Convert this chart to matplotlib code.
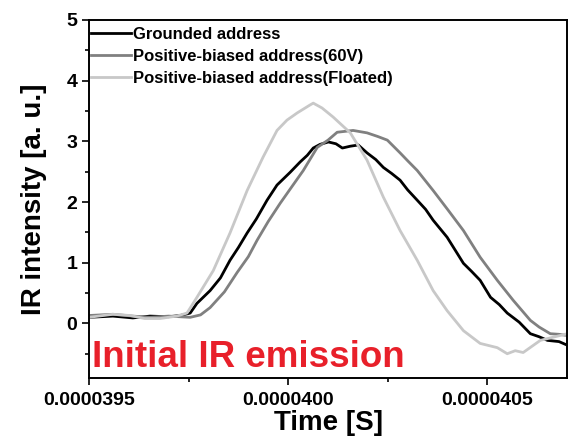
import matplotlib
matplotlib.use("Agg")
import matplotlib.pyplot as plt
from matplotlib.ticker import MultipleLocator, FuncFormatter

plt.rcParams['font.family'] = ['Liberation Sans', 'DejaVu Sans']
plt.rcParams['font.weight'] = 'bold'

# tiempos en microsegundos (se pasan a segundos al graficar)
t_grounded = [39.500, 39.560, 39.610, 39.653, 39.700, 39.729, 39.754, 39.771, 39.804, 39.830,
              39.854, 39.875, 39.897, 39.920, 39.947, 39.972, 40.005, 40.030, 40.048, 40.063,
              40.080, 40.101, 40.120, 40.136, 40.156, 40.176, 40.198, 40.220, 40.239, 40.260,
              40.281, 40.300, 40.324, 40.345, 40.364, 40.399, 40.420, 40.440, 40.460, 40.482,
              40.508, 40.530, 40.550, 40.580, 40.608, 40.630, 40.651, 40.680, 40.701]
v_grounded = [0.10, 0.12, 0.09, 0.12, 0.11, 0.13, 0.17, 0.33, 0.54, 0.75,
              1.04, 1.25, 1.49, 1.72, 2.03, 2.28, 2.49, 2.66, 2.77, 2.89,
              2.95, 2.99, 2.96, 2.89, 2.92, 2.94, 2.81, 2.70, 2.57, 2.47,
              2.36, 2.20, 2.03, 1.88, 1.70, 1.42, 1.20, 0.99, 0.86, 0.71,
              0.43, 0.31, 0.17, 0.02, -0.17, -0.22, -0.28, -0.30, -0.36]

t_60v = [39.500, 39.560, 39.610, 39.653, 39.700, 39.754, 39.780, 39.804, 39.840, 39.872,
         39.900, 39.922, 39.950, 39.980, 40.010, 40.038, 40.073, 40.100, 40.123, 40.163,
         40.198, 40.225, 40.249, 40.281, 40.300, 40.324, 40.364, 40.400, 40.440, 40.482,
         40.525, 40.565, 40.608, 40.630, 40.658, 40.680, 40.701]
v_60v = [0.13, 0.15, 0.12, 0.10, 0.12, 0.10, 0.14, 0.26, 0.52, 0.84,
         1.10, 1.37, 1.68, 1.98, 2.26, 2.52, 2.90, 3.02, 3.15, 3.18,
         3.14, 3.08, 3.02, 2.81, 2.68, 2.52, 2.19, 1.88, 1.53, 1.09,
         0.71, 0.38, 0.05, -0.06, -0.17, -0.18, -0.20]

t_floated = [39.500, 39.560, 39.603, 39.640, 39.678, 39.720, 39.746, 39.771, 39.812, 39.854,
             39.897, 39.937, 39.972, 39.997, 40.023, 40.055, 40.063, 40.085, 40.113, 40.156,
             40.198, 40.239, 40.281, 40.324, 40.364, 40.399, 40.440, 40.482, 40.525, 40.550,
             40.570, 40.590, 40.633, 40.670, 40.701]
v_floated = [0.10, 0.15, 0.13, 0.08, 0.08, 0.12, 0.17, 0.43, 0.87, 1.49,
             2.19, 2.74, 3.18, 3.35, 3.47, 3.60, 3.63, 3.55, 3.40, 3.14,
             2.69, 2.08, 1.53, 1.04, 0.54, 0.21, -0.12, -0.33, -0.40, -0.50,
             -0.45, -0.48, -0.28, -0.22, -0.17]

etiquetas = ['Grounded address', 'Positive-biased address(60V)', 'Positive-biased address(Floated)']
colores = ['black', '#808080', '#c8c8c8']

fig = plt.figure(figsize=(5.68, 4.41), dpi=100)
ax = fig.add_axes([89/568, 1-378/441, 478/568, 358/441])

series = [(t_grounded, v_grounded), (t_60v, v_60v), (t_floated, v_floated)]
for (t, v), lab, col in zip(series, etiquetas, colores):
    ax.plot([x*1e-6 for x in t], v, color=col, lw=2.0, label=lab)

ax.set_xlim(39.5e-6, 40.7e-6)
ax.set_ylim(-0.9, 5)
ax.xaxis.set_major_locator(MultipleLocator(0.5e-6))
ax.xaxis.set_minor_locator(MultipleLocator(0.25e-6))
ax.xaxis.set_major_formatter(FuncFormatter(lambda x, p: '%.7f' % x))
ax.yaxis.set_major_locator(MultipleLocator(1))
ax.yaxis.set_minor_locator(MultipleLocator(0.5))
ax.tick_params(which='major', length=5, width=1.2, labelsize=14, direction='out')
ax.tick_params(axis='x', which='major', pad=5)
ax.tick_params(which='minor', length=3, width=1.2, direction='out')
for s in ax.spines.values():
    s.set_linewidth(1.4)

ax.set_xlabel('Time [S]', fontsize=20, fontweight='bold', labelpad=1)
ax.set_ylabel('IR intensity [a. u.]', fontsize=20, fontweight='bold', labelpad=14)

ax.legend(loc='upper left', bbox_to_anchor=(-0.003, 0.99), frameon=False, fontsize=12,
          handlelength=2.4, handletextpad=0.15, labelspacing=0.42,
          borderaxespad=0.0, borderpad=0.2)

ax.text(0.006, 0.03, 'Initial IR emission', transform=ax.transAxes, color='#e8202a',
        fontsize=26.5, fontweight='bold', ha='left', va='baseline')

plt.savefig('out.png', dpi=100)
